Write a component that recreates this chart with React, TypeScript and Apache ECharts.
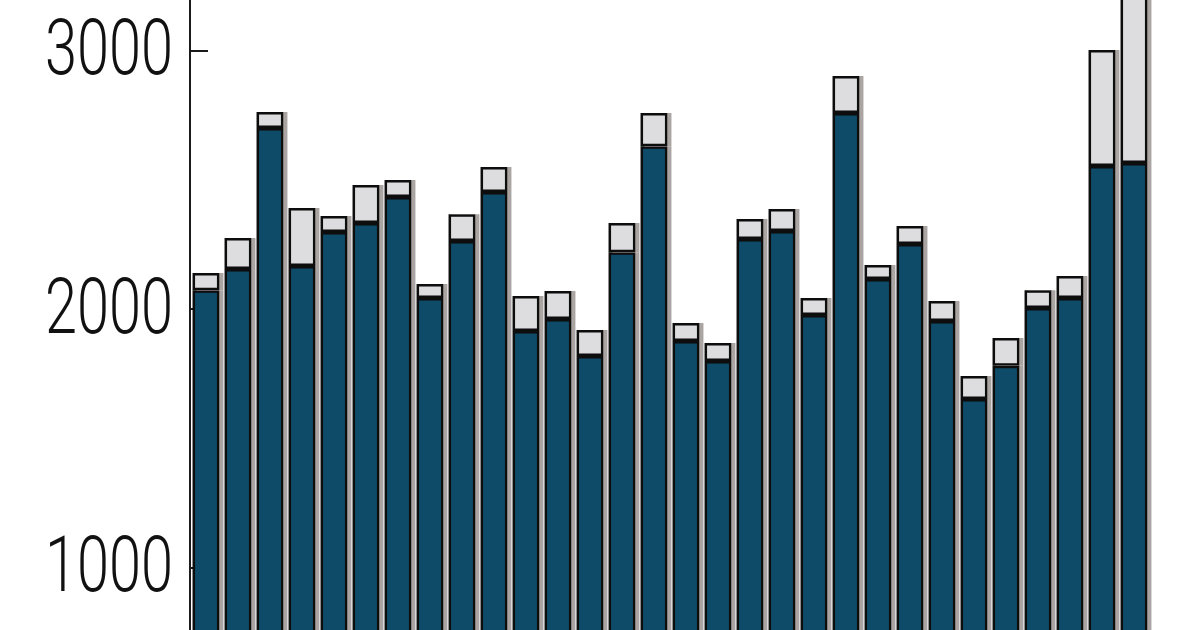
import React, { useEffect, useRef } from "react";
import * as echarts from "echarts";

const categories = [
  "1", "2", "3", "4", "5", "6", "7", "8", "9", "10",
  "11", "12", "13", "14", "15", "16", "17", "18", "19", "20",
  "21", "22", "23", "24", "25", "26", "27", "28", "29", "30",
];

const baseValues = [
  2073, 2155, 2700, 2166, 2298, 2333, 2433, 2043, 2263, 2453,
  1915, 1961, 1818, 2220, 2630, 1876, 1799, 2271, 2302, 1977,
  2758, 2116, 2251, 1954, 1652, 1780, 2004, 2043, 2553, 2565,
];

const addedValues = [
  66, 120, 62, 225, 62, 147, 66, 54, 104, 96,
  135, 109, 101, 113, 128, 70, 69, 77, 85, 66,
  143, 54, 70, 77, 89, 108, 69, 85, 449, 735,
];

const yTicks = [0, 1000, 2000, 3000, 4000];
const yTickLabels = ["0", "1000", "2000", "3000", "4000"];

const OFFSET_TOP = 208.5;
const INNER_HEIGHT = 1034;
const VIEW_HEIGHT = 630;

export default function App() {
  const ref = useRef<HTMLDivElement>(null);

  useEffect(() => {
    if (!ref.current) return;
    const chart = echarts.init(ref.current, null, { renderer: "svg" });
    const shadow = {
      shadowColor: "#aaa5a3",
      shadowBlur: 1,
      shadowOffsetX: 4,
      shadowOffsetY: 0,
    };
    chart.setOption({
      animation: false,
      backgroundColor: "#ffffff",
      grid: {
        left: 190,
        right: 50,
        top: 0,
        bottom: 0,
        containLabel: false,
        outerBoundsMode: "none",
      },
      xAxis: {
        type: "category",
        data: categories,
        axisLine: { show: false },
        axisTick: { show: false },
        axisLabel: { show: false },
      },
      yAxis: {
        type: "value",
        min: yTicks[0],
        max: yTicks[yTicks.length - 1],
        interval: 1000,
        splitLine: { show: false },
        axisLine: { show: true, lineStyle: { color: "#1a1a1a", width: 2 } },
        axisTick: {
          show: true,
          inside: true,
          length: 18,
          lineStyle: { color: "#1a1a1a", width: 2 },
        },
        axisLabel: { show: false },
      },
      series: [
        {
          type: "bar",
          stack: "total",
          data: baseValues,
          barCategoryGap: "16%",
          itemStyle: {
            color: "#0d4b69",
            borderColor: "#0a0a0a",
            borderWidth: 2.5,
            ...shadow,
          },
        },
        {
          type: "bar",
          stack: "total",
          data: addedValues,
          barCategoryGap: "16%",
          itemStyle: {
            color: "#dddde0",
            borderColor: "#0a0a0a",
            borderWidth: 2.5,
            ...shadow,
          },
        },
      ],
    });

    const labels: any[] = [];
    yTicks.forEach((t, i) => {
      const y = chart.convertToPixel({ yAxisIndex: 0 }, t) as number;
      const vy = y - OFFSET_TOP;
      if (vy < 30 || vy > VIEW_HEIGHT - 30) return;
      labels.push({
        type: "text",
        x: 173,
        y: y - 3,
        scaleX: 0.74,
        style: {
          text: yTickLabels[i],
          x: 0,
          y: 0,
          align: "right",
          verticalAlign: "middle",
          fontSize: 78,
          fontWeight: 300,
          fontFamily: "Roboto, 'Noto Sans', sans-serif",
          fill: "#111111",
        },
      });
    });
    chart.setOption({ graphic: labels });

    return () => chart.dispose();
  }, []);

  return (
    <div
      style={{
        position: "fixed",
        left: 0,
        top: 0,
        width: 1200,
        height: VIEW_HEIGHT,
        overflow: "hidden",
        background: "#fff",
      }}
    >
      <div
        ref={ref}
        style={{
          position: "absolute",
          left: 0,
          top: -OFFSET_TOP,
          width: 1200,
          height: INNER_HEIGHT,
        }}
      />
    </div>
  );
}
